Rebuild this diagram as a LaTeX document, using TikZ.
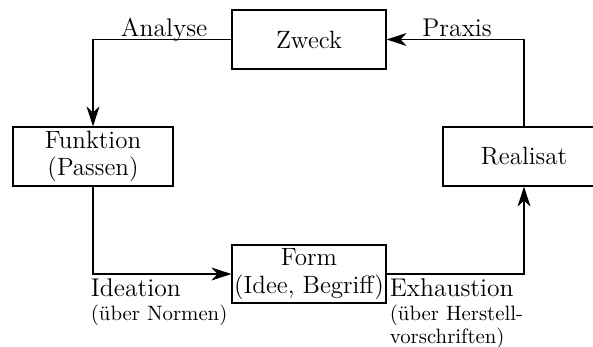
\documentclass[tikz,border=0pt]{standalone}
\usetikzlibrary{arrows.meta}
\begin{document}
\begin{tikzpicture}[x=0.5pt,y=-0.5pt,
  box/.style={draw, line width=0.6pt, inner sep=0pt, align=center,
    font=\fontsize{12.5}{13.85}\selectfont},
  flow/.style={draw, line width=0.6pt, -{Stealth[length=10pt,width=6.5pt,inset=3pt]}},
  lbl/.style={inner sep=0pt, anchor=base west, font=\fontsize{12.8}{14}\selectfont},
  sublbl/.style={inner sep=0pt, anchor=base west, font=\fontsize{10.4}{11}\selectfont}]
  \clip (0,0) rectangle (593,347);

  % the four stations of the cycle
  \node[box, minimum width=77pt, minimum height=29.5pt] (zweck) at (309,39.5) {Zweck};
  \node[box, minimum width=80pt, minimum height=29.5pt] (funktion) at (93,156.5) {Funktion\\(Passen)};
  \node[box, minimum width=81pt, minimum height=29.5pt] (realisat) at (524,156.5) {Realisat};
  \node[box, minimum width=77pt, minimum height=29pt] (form) at (309,274) {Form\\(Idee, Begriff)};

  % connectors
  \draw[flow] (zweck.west) -| (funktion.north);
  \draw[flow] (funktion.south) |- (form.west);
  \draw[flow] (form.east) -| (realisat.south);
  \draw[flow] (realisat.north) |- (zweck.east);

  % connector labels
  \node[lbl] (analyse) at (120.5,37) {Analyse};
  \node[lbl] (praxis) at (422,36.7) {Praxis};
  \node[lbl] (ideation) at (90.5,296.7) {Ideation};
  \node[sublbl] (normen) at (90.5,320) {(über Normen)};
  \node[lbl] (exhaustion) at (389.5,296.7) {Exhaustion};
  \node[sublbl] (herstell) at (389.5,320.5) {(über Herstell-};
  \node[sublbl] (vorschr) at (389.5,343) {vorschriften)};
\end{tikzpicture}
\end{document}
